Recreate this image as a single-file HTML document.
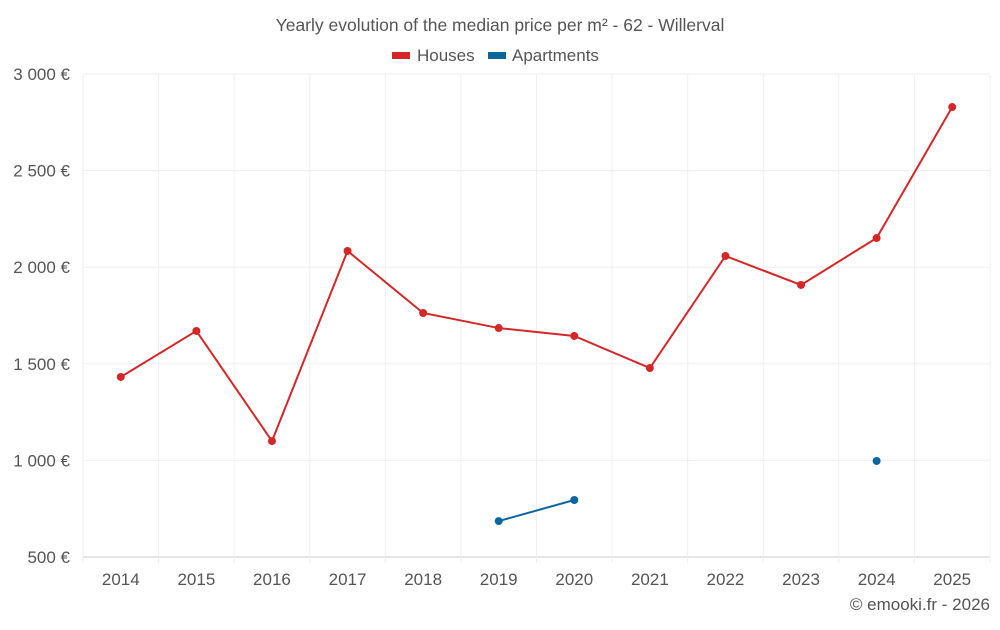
<!DOCTYPE html>
<html><head><meta charset="utf-8"><style>
body{margin:0;background:#fff;font-family:"Liberation Sans",sans-serif;}
svg text{font-family:"Liberation Sans",sans-serif;}
</style></head><body>
<svg id="c" width="1000" height="625">
<text x="500" y="31" text-anchor="middle" font-size="17.5" fill="#555">Yearly evolution of the median price per m² - 62 - Willerval</text>
<g>
<g><rect x="392" y="52" width="18" height="7" fill="#d62728"/><text x="417" y="61" font-size="17" fill="#555">Houses</text></g>
<g><rect x="488" y="52" width="18" height="7" fill="#0b66a0"/><text x="512" y="61" font-size="17" fill="#555">Apartments</text></g>
</g>
<g id="grid"></g><g id="axes"></g><g id="series"></g>
<text x="990" y="610" text-anchor="end" font-size="17" fill="#555">© emooki.fr - 2026</text>
</svg>
<script>
const years=["2014","2015","2016","2017","2018","2019","2020","2021","2022","2023","2024","2025"];
const houses=[1432,1670,1100,2084,1763,1685,1644,1478,2058,1908,2151,2829];
const apartments=[null,null,null,null,null,686,795,null,null,null,997,null];
const yTicks=[500,1000,1500,2000,2500,3000];
const yTickLabels=["500 €","1 000 €","1 500 €","2 000 €","2 500 €","3 000 €"];
const L=83,R=990,T=74,B=557,ymin=500,ymax=3000;
const bw=(R-L)/years.length;
const x=i=>L+bw*(i+0.5);
const y=v=>B-(v-ymin)/(ymax-ymin)*(B-T);
const NS="http://www.w3.org/2000/svg";
function mk(tag,attrs,parent){const e=document.createElementNS(NS,tag);for(const k in attrs)e.setAttribute(k,attrs[k]);document.getElementById(parent).appendChild(e);return e;}
yTicks.forEach((t,i)=>{
 const g=mk('line',{x1:L,x2:R,y1:y(t),y2:y(t),stroke:i==0?'#ccc':'#efefef'},'grid');
 
 
 const tx=mk('text',{x:70,y:y(t)+6,'text-anchor':'end','font-size':17,fill:'#555'},'axes');
 tx.textContent=yTickLabels[i];
 
 
});
for(let i=0;i<=years.length;i++){
 const g=mk('line',{x1:L+bw*i,x2:L+bw*i,y1:T,y2:B+6,stroke:'#efefef'},'grid');
 
 
}
years.forEach((yr,i)=>{
 const tx=mk('text',{x:x(i),y:585,'text-anchor':'middle','font-size':17,fill:'#555'},'axes');
 tx.textContent=yr;
 
 
});
function draw(vals,color,name){
 let segs=[],cur=[];
 vals.forEach((v,i)=>{if(v==null){if(cur.length)segs.push(cur);cur=[];}else cur.push([x(i),y(v)]);});
 if(cur.length)segs.push(cur);
 segs.forEach(s=>{if(s.length>1){const p=mk('polyline',{points:s.map(q=>q.join(',')).join(' '),fill:'none',stroke:color,'stroke-width':2},'series');
  
  }});
 vals.forEach((v,i)=>{if(v!=null){const c=mk('circle',{cx:x(i),cy:y(v),r:4,fill:color},'series');
  
  }});
}
draw(houses,'#d62728','houses');
draw(apartments,'#0b66a0','apartments');
</script>
</body></html>
